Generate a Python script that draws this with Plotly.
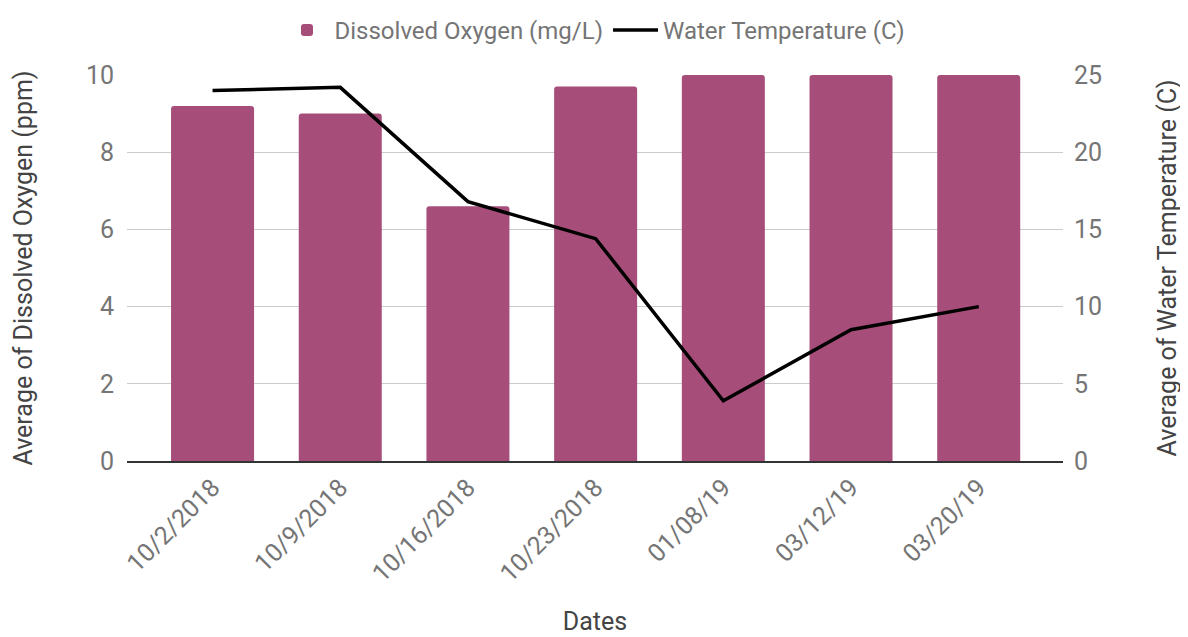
import plotly.graph_objects as go

dates = ["10/2/2018", "10/9/2018", "10/16/2018", "10/23/2018", "01/08/19", "03/12/19", "03/20/19"]
dissolved_oxygen = [9.2, 9.0, 6.6, 9.7, 10.0, 10.0, 10.0]
water_temp = [24.0, 24.2, 16.8, 14.4, 3.9, 8.5, 10.0]

font_main = "Roboto, Arial, sans-serif"
gray = "#757575"
title_gray = "#444444"

fig = go.Figure()

fig.add_trace(
    go.Bar(
        x=dates,
        y=dissolved_oxygen,
        name="Dissolved Oxygen (mg/L)",
        marker=dict(color="#a64d79", line=dict(width=0)),
        width=0.65,
    )
)
fig.add_trace(
    go.Scatter(
        x=dates,
        y=water_temp,
        name="Water Temperature (C)",
        mode="lines",
        line=dict(color="black", width=3.5),
        yaxis="y2",
    )
)

fig.update_layout(
    width=1188,
    height=637,
    autosize=False,
    paper_bgcolor="white",
    plot_bgcolor="white",
    # the page body adds an 8px offset, margins compensate for it
    margin=dict(l=119, r=133, t=67, b=184),
    font=dict(family=font_main, size=25, color=gray),
    barcornerradius=3,
    showlegend=True,
    legend=dict(
        orientation="h",
        x=0.5,
        xanchor="center",
        y=1.0,
        yanchor="top",
        yref="container",
        itemwidth=45,
        font=dict(size=24, color=gray),
    ),
    xaxis=dict(
        range=[-0.67, 6.66],
        tickangle=-45,
        tickfont=dict(size=25, color=gray),
        showline=True,
        linecolor="#333333",
        linewidth=2,
        showgrid=False,
        ticks="",
        automargin=False,
        title=dict(text="Dates", font=dict(size=25, color=title_gray), standoff=26),
    ),
    yaxis=dict(
        range=[0, 10],
        tickvals=[0, 2, 4, 6, 8, 10],
        gridcolor="#cccccc",
        gridwidth=1,
        zeroline=False,
        tickfont=dict(size=25, color=gray),
        ticks="",
        ticklabelstandoff=12,
        automargin=False,
        title=dict(
            text="Average of Dissolved Oxygen (ppm)",
            font=dict(size=25, color=title_gray),
            standoff=46,
        ),
    ),
    yaxis2=dict(
        range=[0, 25],
        tickvals=[0, 5, 10, 15, 20, 25],
        overlaying="y",
        side="right",
        showgrid=False,
        zeroline=False,
        tickfont=dict(size=25, color=gray),
        ticks="",
        ticklabelstandoff=10,
        automargin=False,
        title=dict(
            text="Average of Water Temperature (C)",
            font=dict(size=25, color=title_gray),
            standoff=57,
        ),
    ),
)

fig.write_html("out.html")
